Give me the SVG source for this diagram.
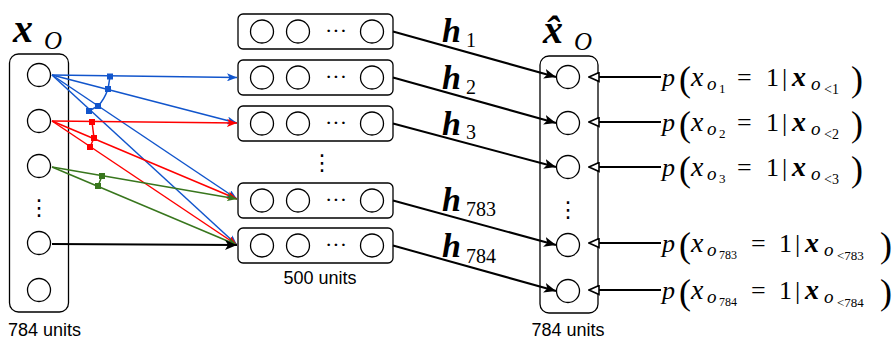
<svg xmlns="http://www.w3.org/2000/svg" width="894" height="339" viewBox="0 0 894 339">
<style>
.box{fill:#fff;stroke:#000;stroke-width:1.3}
.c{fill:#fff;stroke:#000;stroke-width:1.3}
.m{font-family:"Liberation Serif","DejaVu Serif",serif;fill:#000}
.it{font-style:italic}
.bi{font-style:italic;font-weight:bold}
.lab{font-family:"Liberation Sans",Arial,sans-serif;font-size:18px;fill:#000}
.blk{stroke:#000;stroke-width:2;fill:none}
.blue{stroke:#1155cc;stroke-width:1.5;fill:none}
.red{stroke:#ff0000;stroke-width:1.5;fill:none}
.green{stroke:#38761d;stroke-width:1.5;fill:none}
.dots{font-family:"DejaVu Sans",sans-serif;font-size:22px;fill:#000;text-anchor:middle}
</style>
<defs>
<marker id="aBlk" markerUnits="userSpaceOnUse" viewBox="0 0 12 10" refX="12" refY="5" markerWidth="12" markerHeight="10" orient="auto"><path d="M0,0 L12,5 L0,10 L3,5 Z" fill="#000"/></marker>
<marker id="aBlue" markerUnits="userSpaceOnUse" viewBox="0 0 10 8" refX="10" refY="4" markerWidth="10" markerHeight="8" orient="auto"><path d="M0,0 L10,4 L0,8 L2.5,4 Z" fill="#1155cc"/></marker>
<marker id="aRed" markerUnits="userSpaceOnUse" viewBox="0 0 10 8" refX="10" refY="4" markerWidth="10" markerHeight="8" orient="auto"><path d="M0,0 L10,4 L0,8 L2.5,4 Z" fill="#ff0000"/></marker>
<marker id="aGreen" markerUnits="userSpaceOnUse" viewBox="0 0 10 8" refX="10" refY="4" markerWidth="10" markerHeight="8" orient="auto"><path d="M0,0 L10,4 L0,8 L2.5,4 Z" fill="#38761d"/></marker>
<marker id="aOpen" markerUnits="userSpaceOnUse" viewBox="-1 -1 12 11" refX="10" refY="4.5" markerWidth="12" markerHeight="11" orient="auto"><path d="M0,0 L10,4.5 L0,9 Z" fill="#fff" stroke="#000" stroke-width="1.6"/></marker>
</defs>

<g id="input">
<rect class="box" x="9.5" y="54" width="59" height="258" rx="9"/>
<circle class="c" cx="39" cy="75" r="11.5"/>
<circle class="c" cx="39" cy="121" r="11.5"/>
<circle class="c" cx="39" cy="166" r="11.5"/>
<text class="dots" x="39" y="215">⋮</text>
<circle class="c" cx="39" cy="243" r="11.5"/>
<circle class="c" cx="39" cy="290" r="11.5"/>
<text class="lab" x="8" y="336">784 units</text>
<text class="m" x="13" y="42" font-size="40"><tspan class="bi">x</tspan><tspan class="it" x="44" y="49" font-size="25">O</tspan></text>
</g>

<g id="hidden1">
<rect class="box" x="238" y="14" width="155" height="35" rx="5"/>
<circle class="c" cx="262" cy="31.5" r="11.5"/><circle class="c" cx="298" cy="31.5" r="11.5"/><circle class="c" cx="372" cy="31.5" r="11.5"/>
<text class="m" x="336" y="38" font-size="22" text-anchor="middle">···</text>
</g>
<g id="hidden2">
<rect class="box" x="238" y="60" width="155" height="35" rx="5"/>
<circle class="c" cx="262" cy="77.5" r="11.5"/><circle class="c" cx="298" cy="77.5" r="11.5"/><circle class="c" cx="372" cy="77.5" r="11.5"/>
<text class="m" x="336" y="84" font-size="22" text-anchor="middle">···</text>
</g>
<g id="hidden3">
<rect class="box" x="238" y="106" width="155" height="35" rx="5"/>
<circle class="c" cx="262" cy="123.5" r="11.5"/><circle class="c" cx="298" cy="123.5" r="11.5"/><circle class="c" cx="372" cy="123.5" r="11.5"/>
<text class="m" x="336" y="130" font-size="22" text-anchor="middle">···</text>
</g>
<text class="dots" x="322" y="170">⋮</text>
<g id="hidden783">
<rect class="box" x="238" y="183" width="155" height="35" rx="5"/>
<circle class="c" cx="262" cy="200.5" r="11.5"/><circle class="c" cx="298" cy="200.5" r="11.5"/><circle class="c" cx="372" cy="200.5" r="11.5"/>
<text class="m" x="336" y="207" font-size="22" text-anchor="middle">···</text>
</g>
<g id="hidden784">
<rect class="box" x="238" y="228" width="155" height="35" rx="5"/>
<circle class="c" cx="262" cy="245.5" r="11.5"/><circle class="c" cx="298" cy="245.5" r="11.5"/><circle class="c" cx="372" cy="245.5" r="11.5"/>
<text class="m" x="336" y="252" font-size="22" text-anchor="middle">···</text>
</g>
<text class="lab" x="320" y="284" text-anchor="middle">500 units</text>

<g id="output">
<rect class="box" x="540" y="56" width="58" height="257" rx="9"/>
<circle class="c" cx="568" cy="77" r="11.5"/>
<circle class="c" cx="568" cy="123" r="11.5"/>
<circle class="c" cx="568" cy="167" r="11.5"/>
<text class="dots" x="568" y="217">⋮</text>
<circle class="c" cx="568" cy="245" r="11.5"/>
<circle class="c" cx="568" cy="291" r="11.5"/>
<text class="lab" x="568" y="336" text-anchor="middle">784 units</text>
<text class="m" x="543" y="43" font-size="40"><tspan class="bi">x̂</tspan><tspan class="it" x="574" y="50" font-size="25">O</tspan></text>
</g>

<g id="connectors">
<line class="blue" x1="52" y1="75" x2="237" y2="77.5" marker-end="url(#aBlue)"/>
<line class="blue" x1="52" y1="75" x2="237" y2="123" marker-end="url(#aBlue)"/>
<line class="blue" x1="52" y1="75" x2="237" y2="199" marker-end="url(#aBlue)"/>
<line class="blue" x1="52" y1="75" x2="237" y2="245" marker-end="url(#aBlue)"/>
<path class="blue" d="M110,76.5 L108,89 Q104,100 98,106 L89,111"/>
<g fill="#1155cc"><rect x="107" y="73.5" width="6" height="6"/><rect x="105" y="86" width="6" height="6"/><rect x="95" y="103" width="6" height="6"/><rect x="86" y="108" width="6" height="6"/></g>

<line class="red" x1="52" y1="121" x2="237" y2="123" marker-end="url(#aRed)"/>
<line class="red" x1="52" y1="121" x2="237" y2="199" marker-end="url(#aRed)"/>
<line class="red" x1="52" y1="121" x2="237" y2="245" marker-end="url(#aRed)"/>
<path class="red" d="M92,122 L94,138 L90,147"/>
<g fill="#ff0000"><rect x="89" y="119" width="6" height="6"/><rect x="91" y="135" width="6" height="6"/><rect x="87" y="144" width="6" height="6"/></g>

<line class="green" x1="52" y1="167" x2="237" y2="199" marker-end="url(#aGreen)"/>
<line class="green" x1="52" y1="167" x2="237" y2="245" marker-end="url(#aGreen)"/>
<path class="green" d="M102,176 L98,186"/>
<g fill="#38761d"><rect x="99" y="173" width="6" height="6"/><rect x="95" y="183" width="6" height="6"/></g>

<line class="blk" x1="52" y1="244" x2="237" y2="245" marker-end="url(#aBlk)" stroke-width="1.5"/>

<line class="blk" x1="393" y1="31.5" x2="556" y2="77" marker-end="url(#aBlk)"/>
<line class="blk" x1="393" y1="77.5" x2="556" y2="123" marker-end="url(#aBlk)"/>
<line class="blk" x1="393" y1="123.5" x2="556" y2="167" marker-end="url(#aBlk)"/>
<line class="blk" x1="393" y1="200.5" x2="556" y2="245" marker-end="url(#aBlk)"/>
<line class="blk" x1="393" y1="245.5" x2="556" y2="291" marker-end="url(#aBlk)"/>

<line class="blk" x1="661" y1="77" x2="589" y2="77" marker-end="url(#aOpen)"/>
<line class="blk" x1="661" y1="122" x2="589" y2="122" marker-end="url(#aOpen)"/>
<line class="blk" x1="661" y1="167" x2="589" y2="167" marker-end="url(#aOpen)"/>
<line class="blk" x1="661" y1="243" x2="589" y2="243" marker-end="url(#aOpen)"/>
<line class="blk" x1="661" y1="290" x2="589" y2="290" marker-end="url(#aOpen)"/>
</g>

<g class="m">
<text x="442" y="42" font-size="34"><tspan class="bi">h</tspan><tspan x="466" y="47" font-size="20">1</tspan></text>
<text x="442" y="89" font-size="34"><tspan class="bi">h</tspan><tspan x="466" y="94" font-size="20">2</tspan></text>
<text x="442" y="135" font-size="34"><tspan class="bi">h</tspan><tspan x="466" y="139" font-size="20">3</tspan></text>
<text x="442" y="211" font-size="34"><tspan class="bi">h</tspan><tspan x="466" y="216" font-size="20">783</tspan></text>
<text x="442" y="257" font-size="34"><tspan class="bi">h</tspan><tspan x="466" y="263" font-size="20">784</tspan></text>
</g>

<g class="m">
<text y="86" font-size="26"><tspan class="it" x="662">p</tspan><tspan x="679" y="91" font-size="36">(</tspan><tspan class="it" x="691" y="86" font-size="28">x</tspan><tspan class="it" x="707" y="90" font-size="19">o</tspan><tspan x="719" y="93" font-size="13">1</tspan><tspan x="737" y="86">=</tspan><tspan x="766" y="86">1</tspan><tspan x="782" y="86">|</tspan><tspan class="bi" x="792" y="86" font-size="28">x</tspan><tspan class="it" x="811" y="90" font-size="19">o</tspan><tspan x="824" y="94" font-size="14">&lt;1</tspan><tspan x="851" y="91" font-size="36">)</tspan></text>
<text y="131" font-size="26"><tspan class="it" x="662">p</tspan><tspan x="679" y="136" font-size="36">(</tspan><tspan class="it" x="691" y="131" font-size="28">x</tspan><tspan class="it" x="707" y="135" font-size="19">o</tspan><tspan x="719" y="138" font-size="13">2</tspan><tspan x="737" y="131">=</tspan><tspan x="766" y="131">1</tspan><tspan x="782" y="131">|</tspan><tspan class="bi" x="792" y="131" font-size="28">x</tspan><tspan class="it" x="811" y="135" font-size="19">o</tspan><tspan x="824" y="139" font-size="14">&lt;2</tspan><tspan x="851" y="136" font-size="36">)</tspan></text>
<text y="176" font-size="26"><tspan class="it" x="662">p</tspan><tspan x="679" y="181" font-size="36">(</tspan><tspan class="it" x="691" y="176" font-size="28">x</tspan><tspan class="it" x="707" y="180" font-size="19">o</tspan><tspan x="719" y="183" font-size="13">3</tspan><tspan x="737" y="176">=</tspan><tspan x="766" y="176">1</tspan><tspan x="782" y="176">|</tspan><tspan class="bi" x="792" y="176" font-size="28">x</tspan><tspan class="it" x="811" y="180" font-size="19">o</tspan><tspan x="824" y="184" font-size="14">&lt;3</tspan><tspan x="851" y="181" font-size="36">)</tspan></text>
<text y="252" font-size="26"><tspan class="it" x="662">p</tspan><tspan x="679" y="257" font-size="36">(</tspan><tspan class="it" x="691" y="252" font-size="28">x</tspan><tspan class="it" x="707" y="256" font-size="19">o</tspan><tspan x="719" y="259" font-size="12">783</tspan><tspan x="751" y="252">=</tspan><tspan x="779" y="252">1</tspan><tspan x="795" y="252">|</tspan><tspan class="bi" x="805" y="252" font-size="28">x</tspan><tspan class="it" x="824" y="256" font-size="19">o</tspan><tspan x="837" y="260" font-size="13">&lt;783</tspan><tspan x="880" y="257" font-size="36">)</tspan></text>
<text y="299" font-size="26"><tspan class="it" x="662">p</tspan><tspan x="679" y="304" font-size="36">(</tspan><tspan class="it" x="691" y="299" font-size="28">x</tspan><tspan class="it" x="707" y="303" font-size="19">o</tspan><tspan x="719" y="306" font-size="12">784</tspan><tspan x="751" y="299">=</tspan><tspan x="779" y="299">1</tspan><tspan x="795" y="299">|</tspan><tspan class="bi" x="805" y="299" font-size="28">x</tspan><tspan class="it" x="824" y="303" font-size="19">o</tspan><tspan x="837" y="307" font-size="13">&lt;784</tspan><tspan x="880" y="304" font-size="36">)</tspan></text>
</g>
</svg>
